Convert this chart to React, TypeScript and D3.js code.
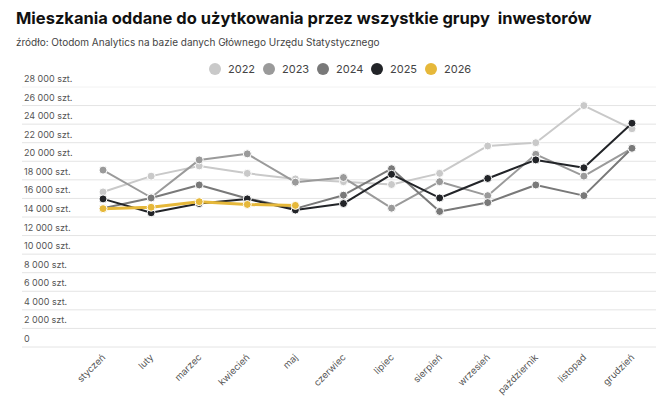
import { useEffect, useRef } from 'react';
import * as d3 from 'd3';

const months = ['styczeń', 'luty', 'marzec', 'kwiecień', 'maj', 'czerwiec', 'lipiec', 'sierpień', 'wrzesień', 'październik', 'listopad', 'grudzień'];
const years = ['2022', '2023', '2024', '2025', '2026'];
const colors = ['#c9c9c9', '#9a9a9a', '#797979', '#222428', '#e6b83a'];

const v2022 = [16700, 18400, 19500, 18700, 18100, 17800, 17500, 18700, 21650, 22000, 26000, 23500];
const v2023 = [19050, 16100, 20150, 20800, 17750, 18250, 14950, 17800, 16300, 20750, 18400, 21400];
const v2024 = [14950, 16050, 17450, 16000, 14900, 16350, 19200, 14600, 15550, 17450, 16300, 21400];
const v2025 = [15950, 14450, 15450, 15950, 14750, 15450, 18600, 16050, 18150, 20150, 19300, 24100];
const v2026 = [14900, 15050, 15650, 15350, 15250];

const series = [v2022, v2023, v2024, v2025, v2026];
const yTicks = d3.range(0, 28001, 2000);

const fmt = (v: number) => (v === 0 ? '0' : `${d3.format(',')(v).replace(',', ' ')} szt.`);

export default function App() {
    const svgRef = useRef<SVGSVGElement>(null);
    const width = 670;
    const height = 411;

    useEffect(() => {
        if (!svgRef.current) return;
        const svg = d3.select(svgRef.current);
        svg.selectAll('*').remove();

        const font = 'Inter, "Open Sans", sans-serif';

        const x = d3.scalePoint<string>().domain(months).range([79, 656]).padding(0.5);
        const y = d3.scaleLinear().domain([0, 28000]).range([347, 87]);

        // Title
        svg.append('text')
            .attr('x', 16)
            .attr('y', 24)
            .attr('font-family', font)
            .attr('font-size', 16.5)
            .attr('font-weight', 700)
            .attr('fill', '#111')
            .style('white-space', 'pre')
            .text('Mieszkania oddane do użytkowania przez wszystkie grupy  inwestorów');

        svg.append('text')
            .attr('x', 16)
            .attr('y', 46)
            .attr('font-family', font)
            .attr('font-size', 10)
            .attr('fill', '#444')
            .text('źródło: Otodom Analytics na bazie danych Głównego Urzędu Statystycznego');

        // Legend
        const legend = svg.append('g').attr('transform', 'translate(215,69)');
        years.forEach((yr, i) => {
            const g = legend.append('g').attr('transform', `translate(${i * 54},0)`);
            g.append('circle').attr('r', 6).attr('fill', colors[i]);
            g.append('text')
                .attr('x', 13)
                .attr('y', 4)
                .attr('font-family', font)
                .attr('font-size', 11)
                .attr('fill', '#444')
                .text(yr);
        });

        // Grid
        const grid = svg.append('g');
        grid.selectAll('line')
            .data(yTicks)
            .enter().append('line')
            .attr('x1', 22)
            .attr('x2', 656)
            .attr('y1', d => y(d))
            .attr('y2', d => y(d))
            .attr('stroke', d => (d === 28000 ? '#f2f2f2' : '#e4e4e4'))
            .attr('stroke-width', 1);

        grid.selectAll('text')
            .data(yTicks)
            .enter().append('text')
            .attr('x', 24)
            .attr('y', d => y(d) - 5)
            .attr('font-family', font)
            .attr('font-size', 9)
            .attr('fill', '#555')
            .text(d => fmt(d));

        // X labels
        svg.append('g')
            .selectAll('text')
            .data(months)
            .enter().append('text')
            .attr('transform', d => `translate(${(x(d) ?? 0) + 3},358) rotate(-45)`)
            .attr('text-anchor', 'end')
            .attr('font-family', font)
            .attr('font-size', 9.5)
            .attr('fill', '#555')
            .text(d => d);

        // Lines
        const line = d3.line<number>()
            .x((_d, i) => x(months[i]) ?? 0)
            .y(d => y(d));

        series.forEach((vals, si) => {
            const g = svg.append('g');
            g.append('path')
                .datum(vals)
                .attr('d', line)
                .attr('fill', 'none')
                .attr('stroke', colors[si])
                .attr('stroke-width', si === 4 ? 3 : 2)
                .attr('stroke-linejoin', 'round');

            g.selectAll('circle')
                .data(vals)
                .enter().append('circle')
                .attr('cx', (_d, i) => x(months[i]) ?? 0)
                .attr('cy', d => y(d))
                .attr('r', 4)
                .attr('fill', colors[si])
                .attr('stroke', '#fff')
                .attr('stroke-width', 1);
        });
    }, []);

    return (
        <div style={{ position: 'absolute', left: 0, top: 0 }}>
            <svg ref={svgRef} width={width} height={height} style={{ display: 'block', background: '#fff' }} />
        </div>
    );
}
